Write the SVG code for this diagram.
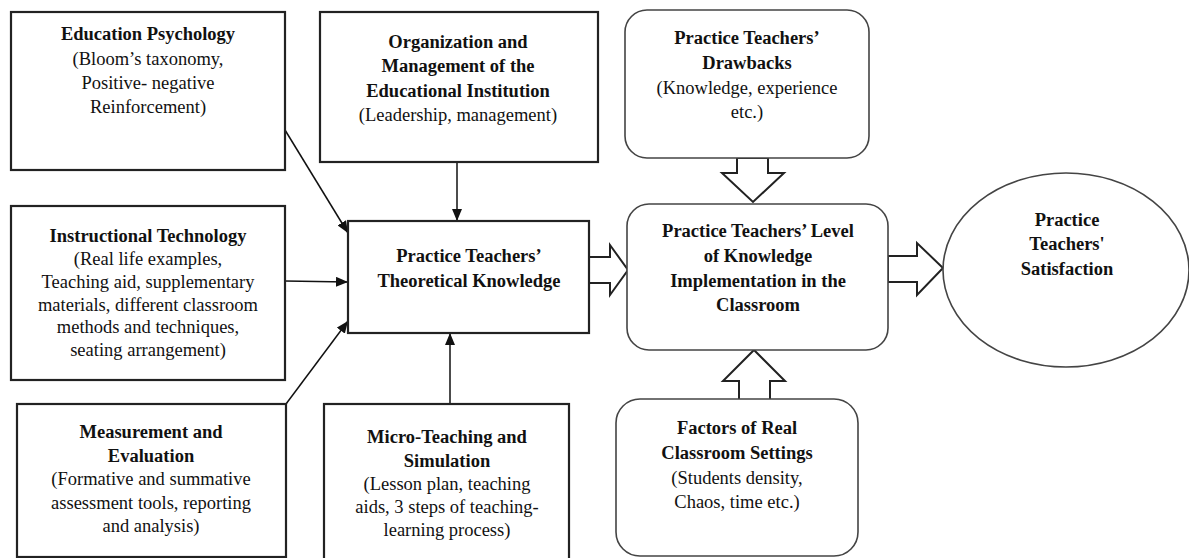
<svg xmlns="http://www.w3.org/2000/svg" width="1189" height="558" viewBox="0 0 1189 558" font-family="Liberation Serif, DejaVu Serif, serif">
  <style>
    .box { fill: #fff; stroke: #222; stroke-width: 2.2; }
    .rbox { fill: #fff; stroke: #444; stroke-width: 1.6; }
    .line { fill: none; stroke: #111; stroke-width: 1.5; }
    .block { fill: #fff; stroke: #222; stroke-width: 2; stroke-linejoin: miter; }
    text { font-size: 18.5px; fill: #111; text-anchor: middle; }
    .t { font-weight: bold; }
  </style>
  <defs>
    <marker id="head" viewBox="0 0 12 10" refX="12" refY="5" markerWidth="12" markerHeight="10" markerUnits="userSpaceOnUse" orient="auto">
      <path d="M0,0 L12,5 L0,10 Z" fill="#111"/>
    </marker>
  </defs>

  <!-- connectors -->
  <g id="connectors">
    <line class="line" x1="285" y1="130" x2="348" y2="233" marker-end="url(#head)"/>
    <line class="line" x1="457" y1="162" x2="457" y2="221" marker-end="url(#head)"/>
    <line class="line" x1="285" y1="281" x2="348" y2="282" marker-end="url(#head)"/>
    <line class="line" x1="286" y1="404" x2="348" y2="321" marker-end="url(#head)"/>
    <line class="line" x1="450" y1="404" x2="450" y2="333" marker-end="url(#head)"/>
    <!-- block arrows -->
    <polygon class="block" points="589,257 610,257 610,245 628,270 610,295 610,283 589,283"/>
    <polygon class="block" points="888,256 917,256 917,243 943,268 917,295 917,282 888,282"/>
    <polygon class="block" points="737,158 768,158 768,173 784,173 753,202 722,173 737,173"/>
    <polygon class="block" points="739,400 739,381 723,381 754,350 785,381 770,381 770,400"/>
  </g>

  <g id="education-psychology">
    <rect class="box" x="11" y="12" width="274" height="158"/>
    <text class="t" x="148" y="40">Education Psychology</text>
    <text x="148" y="65">(Bloom’s taxonomy,</text>
    <text x="148" y="89">Positive- negative</text>
    <text x="148" y="113">Reinforcement)</text>
  </g>

  <g id="organization-management">
    <rect class="box" x="320" y="12" width="278" height="150"/>
    <text class="t" x="458" y="48">Organization and</text>
    <text class="t" x="458" y="72">Management of the</text>
    <text class="t" x="458" y="97">Educational Institution</text>
    <text x="458" y="121">(Leadership, management)</text>
  </g>

  <g id="drawbacks">
    <rect class="rbox" x="625" y="10" width="244" height="148" rx="22" ry="22"/>
    <text class="t" x="747" y="44">Practice Teachers’</text>
    <text class="t" x="747" y="69">Drawbacks</text>
    <text x="747" y="94">(Knowledge, experience</text>
    <text x="747" y="118">etc.)</text>
  </g>

  <g id="instructional-technology">
    <rect class="box" x="11" y="206" width="274" height="174"/>
    <text class="t" x="148" y="242">Instructional Technology</text>
    <text x="148" y="265">(Real life examples,</text>
    <text x="148" y="288">Teaching aid, supplementary</text>
    <text x="148" y="311">materials, different classroom</text>
    <text x="148" y="333">methods and techniques,</text>
    <text x="148" y="356">seating arrangement)</text>
  </g>

  <g id="theoretical-knowledge">
    <rect class="box" x="348" y="221" width="241" height="112"/>
    <text class="t" x="469" y="262">Practice Teachers’</text>
    <text class="t" x="469" y="287">Theoretical Knowledge</text>
  </g>

  <g id="implementation-level">
    <rect class="rbox" x="627" y="204" width="261" height="146" rx="22" ry="22"/>
    <text class="t" x="758" y="237">Practice Teachers’ Level</text>
    <text class="t" x="758" y="262">of Knowledge</text>
    <text class="t" x="758" y="287">Implementation in the</text>
    <text class="t" x="758" y="311">Classroom</text>
  </g>

  <g id="satisfaction">
    <ellipse class="rbox" cx="1066" cy="270" rx="123" ry="97"/>
    <text class="t" x="1067" y="226">Practice</text>
    <text class="t" x="1067" y="250">Teachers'</text>
    <text class="t" x="1067" y="275">Satisfaction</text>
  </g>

  <g id="measurement-evaluation">
    <rect class="box" x="17" y="404" width="269" height="153"/>
    <text class="t" x="151" y="438">Measurement and</text>
    <text class="t" x="151" y="462">Evaluation</text>
    <text x="151" y="485">(Formative and summative</text>
    <text x="151" y="509">assessment tools, reporting</text>
    <text x="151" y="532">and analysis)</text>
  </g>

  <g id="micro-teaching">
    <rect class="box" x="324" y="404" width="245" height="160"/>
    <text class="t" x="447" y="443">Micro-Teaching and</text>
    <text class="t" x="447" y="467">Simulation</text>
    <text x="447" y="490">(Lesson plan, teaching</text>
    <text x="447" y="513">aids, 3 steps of teaching-</text>
    <text x="447" y="536">learning process)</text>
  </g>

  <g id="classroom-factors">
    <rect class="rbox" x="616" y="399" width="242" height="157" rx="24" ry="24"/>
    <text class="t" x="737" y="434">Factors of Real</text>
    <text class="t" x="737" y="459">Classroom Settings</text>
    <text x="737" y="484">(Students density,</text>
    <text x="737" y="508">Chaos, time etc.)</text>
  </g>
</svg>
